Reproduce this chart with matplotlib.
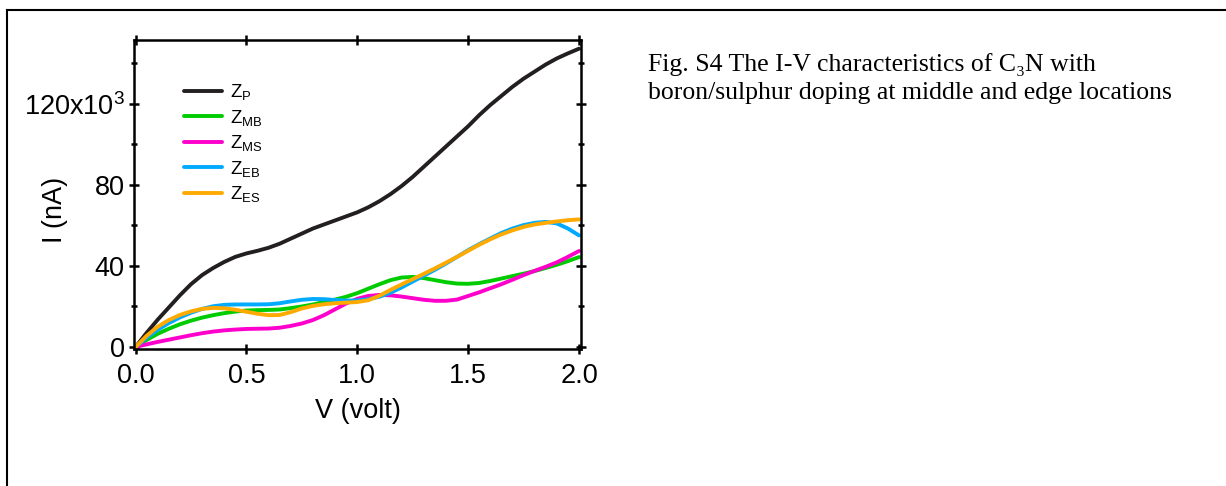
import matplotlib
matplotlib.use("Agg")
import matplotlib.pyplot as plt
from matplotlib.lines import Line2D

plt.rcParams["font.family"] = ["Liberation Sans", "DejaVu Sans"]
plt.rcParams["mathtext.fontset"] = "custom"
plt.rcParams["mathtext.rm"] = "Liberation Sans"
plt.rcParams["mathtext.it"] = "Liberation Sans"

# bias voltage (V), read every 0.05 V off the figure
volts = [0.00, 0.05, 0.10, 0.15, 0.20, 0.25, 0.30, 0.35, 0.40, 0.45, 0.50,
         0.55, 0.60, 0.65, 0.70, 0.75, 0.80, 0.85, 0.90, 0.95, 1.00,
         1.05, 1.10, 1.15, 1.20, 1.25, 1.30, 1.35, 1.40, 1.45, 1.50,
         1.55, 1.60, 1.65, 1.70, 1.75, 1.80, 1.85, 1.90, 1.95, 2.00]

# current in units of 10^3 nA
i_p = [0, 7, 13.5, 19.5, 25.5, 31, 35.5, 39, 42, 44.5, 46.2,
       47.5, 49, 51, 53.5, 56, 58.5, 60.5, 62.5, 64.5, 66.5,
       69, 72, 75.5, 79.5, 84, 89, 94, 99, 104, 109,
       114.5, 119.5, 124, 128.5, 132.5, 136, 139.5, 142.5, 145, 147.3]
i_mb = [0, 3.5, 6.5, 9, 11.2, 13, 14.5, 15.7, 16.7, 17.5, 18,
        18.2, 18.3, 18.5, 19.2, 20, 21, 22.2, 23.4, 24.8, 26.6,
        28.8, 31, 33, 34.3, 34.6, 34, 33, 32, 31.3, 31.2,
        31.6, 32.6, 33.8, 35, 36.2, 37.5, 39, 40.6, 42.4, 44.4]
i_ms = [0, 1.3, 2.5, 3.6, 4.7, 5.8, 6.8, 7.6, 8.2, 8.6, 8.9,
        9, 9.1, 9.5, 10.4, 11.6, 13.3, 15.7, 18.6, 21.5, 23.8,
        25.2, 25.7, 25.5, 24.9, 24.1, 23.3, 22.8, 22.8, 23.4, 25.2,
        27, 29, 31, 33.2, 35.5, 37.6, 39.6, 41.8, 44.5, 47.4]
i_eb = [0, 4.5, 8.5, 11.8, 14.6, 16.9, 18.8, 20.1, 20.8, 21, 21,
        21, 21.1, 21.6, 22.5, 23.3, 23.7, 23.6, 23.2, 22.9, 23,
        23.6, 24.8, 26.8, 29.4, 32.3, 35.2, 38.1, 41.2, 44.5, 47.8,
        50.8, 53.6, 56.3, 58.5, 60.2, 61.3, 61.8, 61, 58.5, 55.1]
i_es = [0, 5.5, 10, 13.3, 15.8, 17.6, 18.8, 19.3, 19.1, 18.4, 17.4,
        16.4, 15.7, 15.8, 17.2, 19, 20.3, 21.1, 21.6, 21.9, 22.2,
        23.1, 25.3, 28.2, 30.9, 33.5, 36.1, 38.8, 41.6, 44.5, 47.5,
        50.5, 53.2, 55.6, 57.6, 59.3, 60.5, 61.3, 62, 62.6, 63]

series = [
    (i_p, "#231f20", r"$\mathregular{Z_{P}}$"),
    (i_mb, "#00cc00", r"$\mathregular{Z_{MB}}$"),
    (i_ms, "#ff00cc", r"$\mathregular{Z_{MS}}$"),
    (i_eb, "#00aaff", r"$\mathregular{Z_{EB}}$"),
    (i_es, "#ffaa00", r"$\mathregular{Z_{ES}}$"),
]

ytick_vals = [0, 40, 80, 120]
ytick_labels = ["0", "40", "80", r"$\mathregular{120x10^3}$"]
xtick_vals = [0.0, 0.5, 1.0, 1.5, 2.0]

fig = plt.figure(figsize=(12.26, 4.86), dpi=100)
ax = fig.add_axes([0.1093, 0.2819, 0.3646, 0.6358])

for cur, c, lab in series:
    ax.plot(volts, cur, color=c, lw=2.8, label=lab,
            solid_capstyle="round", solid_joinstyle="round")

ax.set_xlim(-0.007, 2.009)
ax.set_ylim(-1.0, 151.6)
ax.set_xticks(xtick_vals)
ax.set_xticklabels([f"{x:.1f}" for x in xtick_vals])
ax.set_yticks(ytick_vals)
ax.set_yticklabels(ytick_labels)
ax.set_yticks([20, 60, 100, 140], minor=True)
ax.tick_params(which="major", direction="inout", length=6.5, width=1.8,
               top=True, right=True, labelsize=19.5)
ax.tick_params(axis="x", which="major", pad=6.5)
ax.tick_params(axis="y", which="major", pad=3.5)
ax.tick_params(which="minor", direction="inout", length=4.5, width=1.8,
               left=True, right=True)
for s in ax.spines.values():
    s.set_linewidth(1.8)
ax.set_xlabel("V (volt)", fontsize=19.5, va="top")
ax.xaxis.set_label_coords(0.5, -0.16)
ax.set_ylabel("I (nA)", fontsize=19.5, va="center")
ax.yaxis.set_label_coords(-0.177, 0.45)

ax.legend(loc="upper left", bbox_to_anchor=(0.112, 0.864), frameon=False,
          fontsize=13.4, handlelength=2.05, handletextpad=0.43,
          labelspacing=0.3, borderpad=0, borderaxespad=0)

caption = ["Fig. S4 The I-V characteristics of C\u2083N with",
           "boron/sulphur doping at middle and edge locations"]
for k, line in enumerate(caption):
    fig.text(648 / 1226, 1 - (71 + 28 * k) / 486, line,
             family=["Liberation Serif", "DejaVu Serif"], fontsize=18.5,
             va="baseline", ha="left")

# cell border
fig.add_artist(Line2D([0.0055, 1.0], [0.979, 0.979], color="black", lw=1.5))
fig.add_artist(Line2D([0.0055, 0.0055], [0.0, 0.979], color="black", lw=1.5))

fig.savefig("out.png", dpi=100)
